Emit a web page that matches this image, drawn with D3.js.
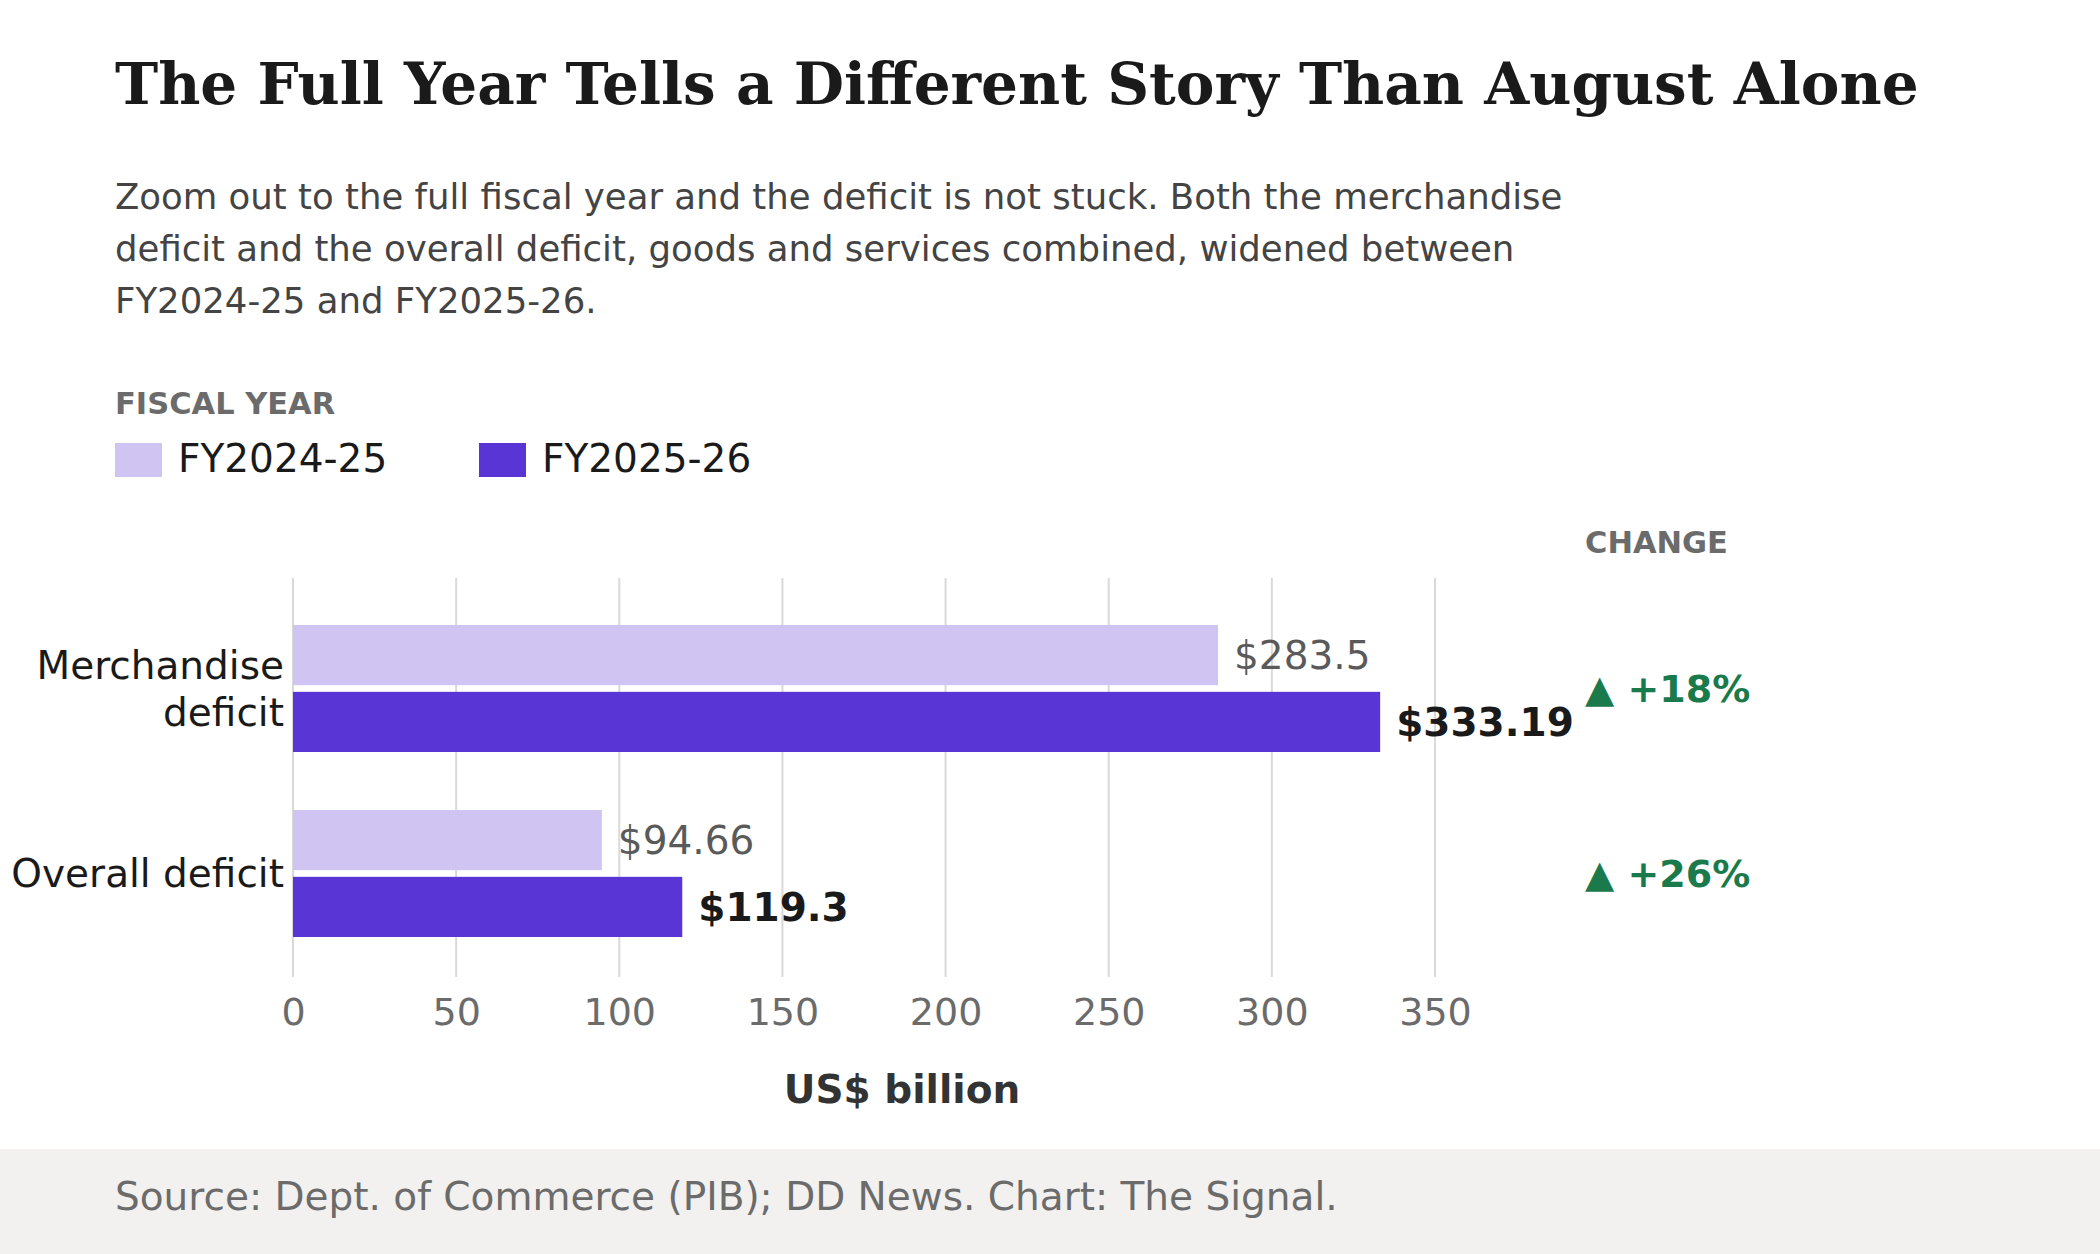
<!DOCTYPE html>
<html><head><meta charset="utf-8">
<script src="https://cdn.jsdelivr.net/npm/d3@7"></script>
<style>body{margin:0;background:#fff}svg{display:block}</style>
</head><body>
<script>
var categories = ["Merchandise deficit", "Overall deficit"]
var categoryLines = [["Merchandise", "deficit"], ["Overall deficit"]]
var years = ["FY2024-25", "FY2025-26"]
var fy2425 = [283.5, 94.66]
var fy2526 = [333.19, 119.3]
var valueLabels2425 = ["$283.5", "$94.66"]
var valueLabels2526 = ["$333.19", "$119.3"]
var changes = ["▲ +18%", "▲ +26%"]
var xTicks = [0, 50, 100, 150, 200, 250, 300, 350]

var width = 2100, height = 1254
var colours = ["#cfc4f2", "#5a35d6"]
var sans = "'DejaVu Sans', sans-serif"

var svg = d3.select("body").append("svg").attr("width", width).attr("height", height)

// footer band
svg.append("rect").attr("x", 0).attr("y", 1149).attr("width", width).attr("height", 105).attr("fill", "#f2f1ef")
svg.append("text").attr("x", 115).attr("y", 1210).attr("font-family", sans).attr("font-size", 39)
   .attr("fill", "#6b6b6b").text("Source: Dept. of Commerce (PIB); DD News. Chart: The Signal.")

svg.append("text").attr("x", 115).attr("y", 104).attr("font-family", "'DejaVu Serif', serif")
   .attr("font-weight", "bold").attr("font-size", 58).attr("fill", "#1a1a1a")
   .text("The Full Year Tells a Different Story Than August Alone")

var sub = ["Zoom out to the full fiscal year and the deficit is not stuck. Both the merchandise",
           "deficit and the overall deficit, goods and services combined, widened between",
           "FY2024-25 and FY2025-26."]
sub.forEach(function(s, i){
  svg.append("text").attr("x", 115).attr("y", 209 + i * 52).attr("font-family", sans)
     .attr("font-size", 35.5).attr("fill", "#444").text(s)
})

svg.append("text").attr("x", 115).attr("y", 414).attr("font-family", sans).attr("font-weight", "bold")
   .attr("font-size", 30.5).attr("fill", "#6b6b6b").text("FISCAL YEAR")

var legX = [115, 479]
years.forEach(function(y, i){
  svg.append("rect").attr("x", legX[i]).attr("y", 443).attr("width", 47).attr("height", 34).attr("fill", colours[i])
  svg.append("text").attr("x", legX[i] + 63).attr("y", 472).attr("font-family", sans)
     .attr("font-size", 39).attr("fill", "#1a1a1a").text(y)
})

svg.append("text").attr("x", 1585).attr("y", 553).attr("font-family", sans).attr("font-weight", "bold")
   .attr("font-size", 30.5).attr("fill", "#6b6b6b").text("CHANGE")

var x = d3.scaleLinear().domain([0, 350]).range([293, 1435])
var y = d3.scaleBand().domain(categories).range([625, 937]).paddingInner(0.3135).paddingOuter(0)
var sub2 = d3.scaleBand().domain(years).range([0, y.bandwidth()]).paddingInner(0.1)

var xAxis = d3.axisBottom(x).tickValues(xTicks).tickSize(0).tickPadding(0)
var gx = svg.append("g").attr("transform", "translate(0,1025)").call(xAxis)
gx.select(".domain").remove()
gx.selectAll("text").attr("font-family", sans).attr("font-size", 38).attr("fill", "#6b6b6b").attr("dy", 0)

svg.selectAll(".grid").data(xTicks).enter().append("line")
   .attr("x1", function(d){ return x(d) }).attr("x2", function(d){ return x(d) })
   .attr("y1", 578).attr("y2", 977).attr("stroke", "#d9d9d9").attr("stroke-width", 2)

var series = [fy2425, fy2526]
var labels = [valueLabels2425, valueLabels2526]
series.forEach(function(vals, s){
  svg.selectAll(".bar" + s).data(vals).enter().append("rect")
     .attr("x", x(0)).attr("y", function(d, i){ return y(categories[i]) + sub2(years[s]) })
     .attr("width", function(d){ return x(d) - x(0) }).attr("height", sub2.bandwidth())
     .attr("fill", colours[s])
  svg.selectAll(".lab" + s).data(vals).enter().append("text")
     .attr("x", function(d){ return x(d) + 16 })
     .attr("y", function(d, i){ return y(categories[i]) + sub2(years[s]) + sub2.bandwidth() / 2 })
     .attr("dy", "0.35em").attr("font-family", sans).attr("font-size", 39)
     .attr("font-weight", s ? "bold" : "normal").attr("fill", s ? "#1a1a1a" : "#5a5a5a")
     .text(function(d, i){ return labels[s][i] })
})

categories.forEach(function(c, i){
  var mid = y(c) + y.bandwidth() / 2
  var lines = categoryLines[i]
  lines.forEach(function(l, j){
    svg.append("text").attr("x", 284).attr("y", mid + (j - (lines.length - 1) / 2) * 47)
       .attr("dy", "0.35em").attr("text-anchor", "end").attr("font-family", sans)
       .attr("font-size", 39).attr("fill", "#1a1a1a").text(l)
  })
  svg.append("text").attr("x", 1585).attr("y", mid).attr("dy", "0.35em").attr("font-family", sans)
     .attr("font-weight", "bold").attr("font-size", 38).attr("fill", "#1a7a4c").text(changes[i])
})

svg.append("text").attr("x", 902).attr("y", 1103).attr("text-anchor", "middle").attr("font-family", sans)
   .attr("font-weight", "bold").attr("font-size", 39).attr("fill", "#333").text("US$ billion")
</script>
</body></html>
